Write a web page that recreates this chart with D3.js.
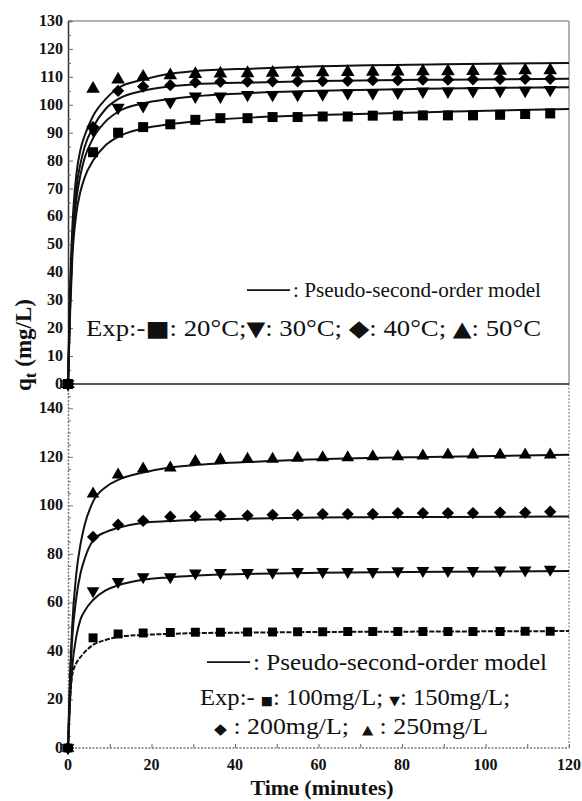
<!DOCTYPE html>
<html>
<head>
<meta charset="utf-8">
<script src="https://cdnjs.cloudflare.com/ajax/libs/d3/7.8.5/d3.min.js"></script>
<style>
    body { margin: 0; background: #fff; }
    svg text { font-family: "Liberation Serif", "Times New Roman", serif; fill: #111; white-space: pre; }
    .tickLabel { font-weight: bold; font-size: 16px; }
    .title { font-weight: bold; font-size: 22px; }
    .fit { fill: none; stroke: #111; stroke-width: 2; }
</style>
</head>
<body>
<div id="chart"></div>
<script>
// sampling times of the experimental points (minutes)
var times = [0, 6, 12, 18, 24.5, 30.5, 36.5, 43, 49, 55, 61, 67, 73, 79, 85, 91, 97, 103.5, 109.5, 115.5];

// top panel: temperature series (mg/L)
var exp20 = [0, 83, 90, 92, 93, 94.6, 95.2, 95.2, 95.6, 95.6, 95.8, 95.8, 96.1, 96.1, 96.2, 96.2, 96.2, 96.4, 96.7, 96.9];
var exp30 = [0, 91, 99, 99.6, 101, 103, 103, 103.6, 103.6, 103.6, 103.8, 104.2, 104.2, 104.4, 104.8, 104.8, 105, 105.1, 105.1, 105.4];
var exp40 = [0, 92, 105, 106.5, 107, 108, 108.2, 108.3, 108.4, 108.4, 108.5, 108.6, 108.8, 108.8, 109, 109, 109.1, 109.2, 109.3, 109.3];
var exp50 = [0, 105.7, 109, 110, 110.5, 111, 111.2, 111.3, 111.4, 111.5, 111.6, 111.7, 111.8, 111.9, 112, 112, 112.1, 112.2, 112.3, 112.3];

// bottom panel: initial concentration series (mg/L)
var exp100 = [0, 45.4, 47, 47.4, 47.6, 47.7, 47.7, 47.8, 47.8, 47.9, 47.9, 48, 48, 48, 48, 48, 48, 48, 48.1, 48.1];
var exp150 = [0, 64.7, 68.5, 70.5, 70.5, 72.0, 72.3, 72.3, 72.4, 72.7, 72.7, 72.7, 72.7, 73.0, 73.1, 73.1, 73.1, 73.3, 73.3, 73.6];
var exp200 = [0, 87, 92, 93.6, 95.3, 95.4, 95.7, 95.8, 96.1, 96.1, 96.4, 96.4, 96.4, 96.8, 96.8, 96.8, 96.8, 97.0, 97.0, 97.4];
var exp250 = [0, 104.7, 112.6, 115, 115.5, 118.1, 118.8, 119.1, 119.1, 119.5, 119.7, 119.7, 120.1, 120.1, 120.4, 120.8, 120.8, 120.8, 120.8, 120.8];

// model curves
var fitT = [0, 0.5, 1, 2, 3, 4, 6, 9, 12, 18, 24, 30, 45, 60, 90, 120];
var fit20 = [0, 25, 44, 61, 69, 74, 80, 85.5, 88.5, 91.5, 93, 94, 95.5, 96.3, 97.5, 98.5];
var fit30 = [0, 28, 48, 66, 75, 81, 88, 94, 97.5, 100.5, 102, 103, 104.3, 105, 105.8, 106.3];
var fit40 = [0, 30, 50, 70, 79, 85, 92, 98.5, 102, 105, 106.5, 107.3, 108, 108.5, 109, 109.3];
var fit50 = [0, 35, 55, 75, 84, 89, 96, 102, 106, 109, 111, 112, 113, 113.8, 114.5, 115];
var fit100 = [0, 20, 30, 35, 37.5, 39.5, 42.5, 44.5, 45.8, 46.6, 47, 47.3, 47.6, 47.8, 48, 48.2];
var fit150 = [0, 20, 33, 46, 53, 56.5, 61, 65, 67, 69.3, 70.3, 71, 71.8, 72.2, 72.6, 72.9];
var fit200 = [0, 28, 45, 62, 72, 78, 85.5, 89, 90.7, 92.8, 93.5, 94, 94.6, 95, 95.2, 95.4];
var fit250 = [0, 30, 50, 72, 84, 92, 101.5, 107.5, 110.5, 113.5, 115.5, 116.5, 118, 119, 120, 120.8];

var xTicks = [0, 20, 40, 60, 80, 100, 120];
var topTicks = [0, 10, 20, 30, 40, 50, 60, 70, 80, 90, 100, 110, 120, 130];
var botTicks = [0, 20, 40, 60, 80, 100, 120, 140];

var width = 582, height = 801;
var left = 68, right = 569;
var topY0 = 21, midY = 384, botY = 748;

var svg = d3.select("#chart").append("svg")
    .attr("width", width).attr("height", height);

var x = d3.scaleLinear().domain([0, 120]).range([left, right]);
var yTop = d3.scaleLinear().domain([0, 130]).range([midY, topY0]);
var yBot = d3.scaleLinear().domain([0, 150]).range([botY, midY]);

// frames
svg.append("line").attr("x1", left).attr("x2", right).attr("y1", topY0).attr("y2", topY0)
    .attr("stroke", "#999").attr("stroke-width", 1.5);
svg.append("line").attr("x1", right).attr("x2", right).attr("y1", topY0).attr("y2", midY)
    .attr("stroke", "#999").attr("stroke-width", 1.5);
svg.append("line").attr("x1", right).attr("x2", right).attr("y1", midY).attr("y2", botY)
    .attr("stroke", "#888").attr("stroke-width", 1.2).attr("stroke-dasharray", "2,1.5");
svg.append("line").attr("x1", left).attr("x2", right).attr("y1", botY).attr("y2", botY)
    .attr("stroke", "#777").attr("stroke-width", 1.5).attr("stroke-dasharray", "2,1.5");
svg.append("line").attr("x1", left).attr("x2", right).attr("y1", midY).attr("y2", midY)
    .attr("stroke", "#222").attr("stroke-width", 1.5);

// y axes (ticks inward)
var axTop = svg.append("g").attr("transform", "translate(" + left + ",0)")
    .call(d3.axisRight(yTop).tickValues(d3.range(0, 131, 5)).tickSize(4).tickFormat(""));
axTop.select(".domain").attr("stroke", "#333").attr("stroke-width", 1.5);
axTop.selectAll(".tick line").attr("stroke", "#666")
    .attr("x2", function(d) { return d % 10 === 0 ? 5 : 3; });

var axBot = svg.append("g").attr("transform", "translate(" + left + ",0)")
    .call(d3.axisRight(yBot).tickValues(d3.range(0, 151, 5)).tickSize(4).tickFormat(""));
axBot.select(".domain").attr("stroke", "#777").attr("stroke-width", 1.5).attr("stroke-dasharray", "2,1.5");
axBot.selectAll(".tick line").attr("stroke", "#777")
    .attr("x2", function(d) { return d % 20 === 0 ? 5 : 3; });

var axX = svg.append("g").attr("transform", "translate(0," + botY + ")")
    .call(d3.axisTop(x).tickValues(d3.range(0, 121, 10)).tickSize(4).tickFormat(""));
axX.select(".domain").remove();
axX.selectAll(".tick line").attr("stroke", "#666");

// tick labels
svg.selectAll(".lblTop").data(topTicks).enter().append("text")
    .attr("class", "tickLabel").attr("text-anchor", "end")
    .attr("x", left - 5).attr("y", function(d) { return yTop(d) + 5; })
    .text(function(d) { return d; });
svg.selectAll(".lblBot").data(botTicks).enter().append("text")
    .attr("class", "tickLabel").attr("text-anchor", "end")
    .attr("x", left - 5).attr("y", function(d) { return yBot(d) + 5; })
    .text(function(d) { return d; });
svg.selectAll(".lblX").data(xTicks).enter().append("text")
    .attr("class", "tickLabel").attr("text-anchor", "middle")
    .attr("x", function(d) { return x(d); }).attr("y", botY + 22)
    .text(function(d) { return d; });

// axis titles
svg.append("text").attr("class", "title").attr("text-anchor", "middle")
    .attr("x", 322).attr("y", 795).text("Time (minutes)");
var yt = svg.append("text").attr("class", "title").attr("text-anchor", "middle")
    .attr("transform", "translate(31,345) rotate(-90)").style("font-size", "23px");
yt.append("tspan").text("q");
yt.append("tspan").attr("dy", 5).style("font-size", "17px").text("t");
yt.append("tspan").attr("dy", -5).text(" (mg/L)");

// fitted curves
function drawFits(fits, y, styles) {
    var line = d3.line()
        .x(function(d, i) { return x(fitT[i]); })
        .y(function(d) { return y(d); })
        .curve(d3.curveMonotoneX);
    fits.forEach(function(f, i) {
        var p = svg.append("path").datum(f).attr("class", "fit").attr("d", line);
        if (styles && styles[i]) p.attr("stroke", styles[i].stroke)
            .attr("stroke-width", styles[i].width).attr("stroke-dasharray", styles[i].dash);
    });
}
drawFits([fit20, fit30, fit40, fit50], yTop);
drawFits([fit100, fit150, fit200, fit250], yBot,
    [{stroke: "#555", width: 1.2, dash: "5,1.5"}, null, null, null]);

// experimental points
var shapes = {
    square: {type: d3.symbolSquare, rot: 0},
    down: {type: d3.symbolTriangle, rot: 180},
    diamond: {type: d3.symbolSquare, rot: 45},
    up: {type: d3.symbolTriangle, rot: 0}
};
function drawPoints(vals, y, shape, size) {
    svg.append("g").selectAll("path").data(vals).enter().append("path")
        .attr("d", d3.symbol().type(shapes[shape].type).size(size))
        .attr("fill", "#000")
        .attr("transform", function(d, i) {
            return "translate(" + x(times[i]) + "," + y(d) + ") rotate(" + shapes[shape].rot + ")";
        });
}
drawPoints(exp20, yTop, "square", 100);
drawPoints(exp30, yTop, "down", 75);
drawPoints(exp40, yTop, "diamond", 75);
drawPoints(exp50, yTop, "up", 80);
drawPoints(exp100, yBot, "square", 80);
drawPoints(exp150, yBot, "down", 70);
drawPoints(exp200, yBot, "diamond", 75);
drawPoints(exp250, yBot, "up", 70);

// legends
function legendLine(y, xStart, xEnd, size, label) {
    svg.append("text").attr("x", xStart).attr("y", y)
        .attr("textLength", xEnd - xStart).attr("lengthAdjust", "spacingAndGlyphs")
        .style("font-size", size + "px").text(label);
    svg.append("line").attr("x1", xStart - 46).attr("x2", xStart - 3)
        .attr("y1", y - size * 0.33).attr("y2", y - size * 0.33)
        .attr("stroke", "#111").attr("stroke-width", 1.8);
}
legendLine(297, 293, 541, 21, ": Pseudo-second-order model");
legendLine(670, 253, 547, 24, ": Pseudo-second-order model");

function legendRow(xs, xe, y, size, parts) {
    var t = svg.append("text").attr("x", xs).attr("y", y).style("font-size", size + "px")
        .attr("textLength", xe - xs).attr("lengthAdjust", "spacingAndGlyphs");
    parts.forEach(function(p) {
        var s = t.append("tspan").text(p.text);
        if (p.sym) s.style("font-family", "DejaVu Sans").style("font-size", p.sym + "px");
    });
}
legendRow(86, 541, 336, 23, [
    {text: "Exp:-"}, {text: "\u25A0", sym: 22}, {text: ": 20\u00B0C;"},
    {text: "\u25BC", sym: 21}, {text: ": 30\u00B0C; "},
    {text: "\u25C6", sym: 23}, {text: ": 40\u00B0C; "},
    {text: "\u25B2", sym: 21}, {text: ": 50\u00B0C"}
]);
legendRow(200, 510, 705, 23, [
    {text: "Exp:- "}, {text: "\u25A0", sym: 12}, {text: ": 100mg/L; "},
    {text: "\u25BC", sym: 13}, {text: ": 150mg/L;"}
]);
legendRow(214, 488, 734, 23, [
    {text: "\u25C6", sym: 15}, {text: " : 200mg/L;  "},
    {text: "\u25B2", sym: 13}, {text: " : 250mg/L"}
]);
</script>
</body>
</html>
